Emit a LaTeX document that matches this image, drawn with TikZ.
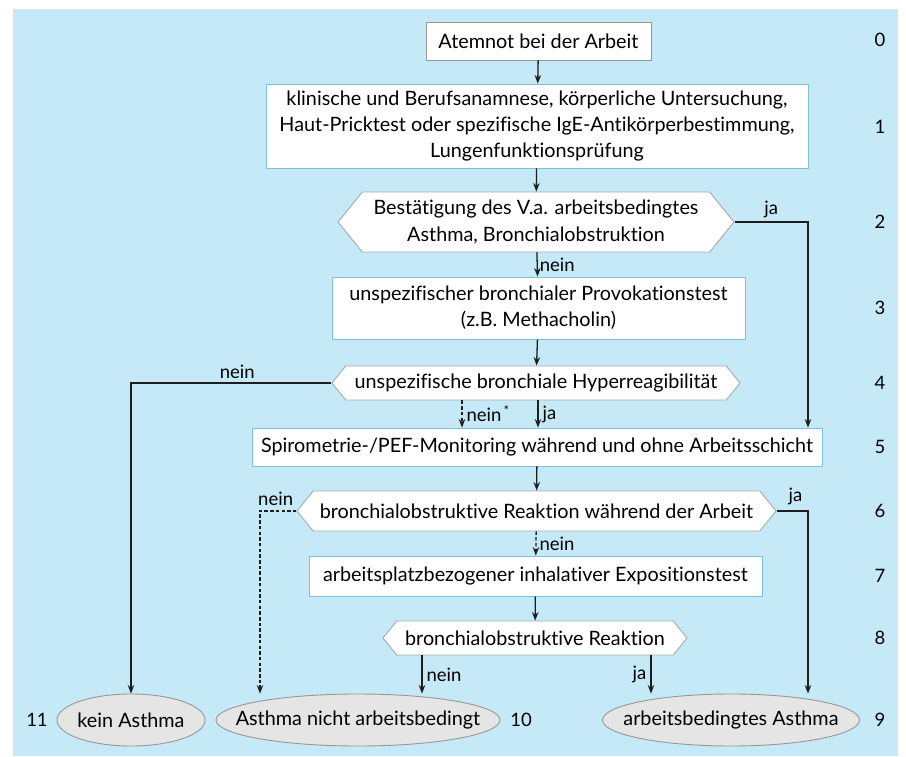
\documentclass[tikz,border=0pt]{standalone}
\usepackage{fontspec}
\setmainfont{Lato}[Ligatures=NoCommon]
\usetikzlibrary{shapes.symbols,shapes.geometric,arrows.meta}
\definecolor{bg}{RGB}{198,233,248}
\definecolor{boxblue}{RGB}{125,192,222}
\definecolor{hexgray}{RGB}{165,170,172}
\definecolor{ellfill}{RGB}{229,229,229}
\definecolor{ellgray}{RGB}{150,150,150}
\definecolor{linec}{RGB}{30,30,30}
\begin{document}
\begin{tikzpicture}[x=1pt,y=-1pt,
  font=\fontsize{19.8}{26.3}\selectfont,
  box/.style={draw=boxblue, fill=white, line width=0.9pt, inner sep=0pt, align=center},
  hexa/.style={shape=signal, signal to=west and east, signal pointer angle=102, draw=hexgray, fill=white, line width=0.9pt, inner sep=0pt, align=center},
  term/.style={ellipse, draw=ellgray, fill=ellfill, line width=0.9pt, inner sep=0pt},
  arr/.style={-{Stealth[length=8.5pt,width=6.5pt]}, line width=1.3pt, draw=linec},
  dsh/.style={dash pattern=on 3.5pt off 2.2pt},
  lab/.style={inner sep=0pt, font=\fontsize{18.5}{20}\selectfont},
  num/.style={inner sep=0pt, font=\fontsize{18.5}{20}\selectfont}]
\useasboundingbox (0,0) rectangle (906,756);
\fill[bg] (13,9) rectangle (898,756);

\node[box, draw=ellgray, minimum width=225, minimum height=38] (n0) at (538.5,41) {Atemnot bei der Arbeit};
\node[box, minimum width=542, minimum height=84] (n1) at (537,126) {klinische und Berufsanamnese, körperliche Untersuchung,\\Haut-Pricktest oder spezifische IgE-Antikörperbestimmung,\\Lungenfunktionsprüfung};
\node[hexa, minimum width=396, minimum height=60] (n2) at (536,222) {Bestätigung des V.a. arbeitsbedingtes\\Asthma, Bronchialobstruktion};
\node[box, minimum width=413, minimum height=62] (n3) at (538.5,308) {unspezifischer bronchialer Provokationstest\\(z.B. Methacholin)};
\node[hexa, minimum width=408, minimum height=34] (n4) at (536,383) {unspezifische bronchiale Hyperreagibilität};
\node[box, minimum width=570, minimum height=38] (n5) at (537,447) {Spirometrie-/PEF-Monitoring während und ohne Arbeitsschicht};
\node[hexa, minimum width=479, minimum height=40] (n6) at (536.5,511) {bronchialobstruktive Reaktion während der Arbeit};
\node[box, minimum width=453, minimum height=40] (n7) at (535.5,576) {arbeitsplatzbezogener inhalativer Expositionstest};
\node[hexa, minimum width=304, minimum height=34] (n8) at (535,638) {bronchialobstruktive Reaktion};
\node[term, minimum width=148, minimum height=52] (e11) at (131,720) {\makebox[60pt]{kein Asthma}};
\node[term, minimum width=284, minimum height=52] (e10) at (358,720) {\makebox[120pt]{Asthma nicht arbeitsbedingt}};
\node[term, minimum width=257, minimum height=52] (e9) at (731,720) {\makebox[110pt]{arbeitsbedingtes Asthma}};

\draw[arr] (n0) -- (n1);
\draw[arr] (n1) -- (n2);
\draw[arr] (n2) -- node[lab, right=2pt, pos=0.5] {nein} (n3);
\draw[arr] (n2.east) -- node[lab, above=3pt, pos=0.5] {ja} (808,222) -- (808,222 |- n5.north);
\draw[arr] (n3) -- (n4);
\draw[arr] (n4.west) -- node[lab, above=4pt, pos=0.47] {nein} (n4.west -| e11.north) -- (e11.north);
\draw[arr, dsh] ([xshift=-74]n4.south) -- node[lab, right=4pt] {nein\textsuperscript{\,*}} ([xshift=-74]n4.south |- n5.north);
\draw[arr] ([xshift=2]n4.south) -- node[lab, right=4pt] {ja} ([xshift=2]n4.south |- n5.north);
\draw[arr] (n5) -- (n6);
\draw[arr, dsh] (n6.west) -- node[lab, above=5pt, pos=0.57] {nein} (n6.west -| 260,0) -- (260,0 |- e10.north);
\draw[arr] (n6.east) -- node[lab, above=5pt, pos=0.6] {ja} (n6.east -| 808,0) -- (808,0 |- e9.north);
\draw[arr, dsh] (n6) -- node[lab, right=3pt] {nein} (n7);
\draw[arr] (n7) -- (n8);
\draw[arr] (422,0 |- n8.south) -- node[lab, right=4pt] {nein} (422,0 |- e10.north);
\draw[arr] (651,0 |- n8.south) -- node[lab, left=4pt] {ja} (651,0 |- e9.north);

\node[num] (k0) at (880,40) {0};
\node[num] (k1) at (880,127) {1};
\node[num] (k2) at (880,222) {2};
\node[num] (k3) at (880,308) {3};
\node[num] (k4) at (880,383) {4};
\node[num] (k5) at (880,447) {5};
\node[num] (k6) at (880,511) {6};
\node[num] (k7) at (880,576) {7};
\node[num] (k8) at (880,638) {8};
\node[num] (k9) at (880,720) {9};
\node[num] (k10) at (521,720) {10};
\node[num] (k11) at (37,720) {11};
\end{tikzpicture}
\end{document}
